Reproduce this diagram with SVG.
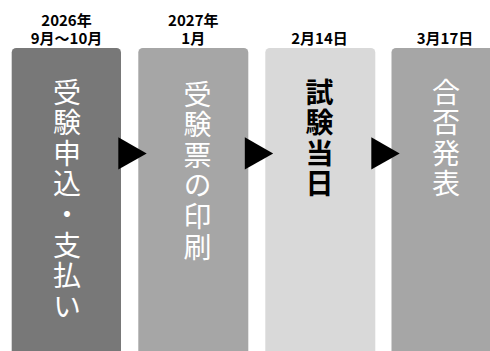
<svg xmlns="http://www.w3.org/2000/svg" width="490" height="351" viewBox="0 0 490 351">
<style>
.lbl{font-family:"Noto Sans CJK JP","Noto Sans",sans-serif;font-size:15px;font-weight:bold;fill:#000;text-anchor:middle}
.vt{font-family:"Noto Sans CJK JP","Noto Sans",sans-serif;font-size:28px;fill:#fff;writing-mode:vertical-rl;letter-spacing:2.6px}
.vb{font-family:"Noto Sans CJK JP","Noto Sans",sans-serif;font-size:28px;font-weight:bold;fill:#000;writing-mode:vertical-rl;letter-spacing:2.6px}
.arrow{fill:#000}
</style>
<rect width="490" height="351" fill="#fff"/>
<g id="step1">
<rect x="11.7" y="48" width="109.3" height="320" rx="4.5" fill="#787878"/>
<text class="lbl"><tspan x="66.5" y="26">2026年</tspan><tspan x="66.5" y="44">9月〜10月</tspan></text>
<text class="vt" x="67" y="78">受験申込・支払い</text>
</g>
<g id="step2">
<rect x="138.3" y="48" width="110" height="320" rx="4.5" fill="#a6a6a6"/>
<text class="lbl"><tspan x="193.3" y="26">2027年</tspan><tspan x="193.3" y="44">1月</tspan></text>
<text class="vt" x="197.5" y="80">受験票の印刷</text>
</g>
<g id="step3">
<rect x="265.3" y="48" width="110" height="320" rx="4.5" fill="#d9d9d9"/>
<text class="lbl" x="319.5" y="44">2月14日</text>
<text class="vb" x="319.5" y="78">試験当日</text>
</g>
<g id="step4">
<rect x="391.5" y="48" width="110" height="320" rx="4.5" fill="#a6a6a6"/>
<text class="lbl" x="445" y="44">3月17日</text>
<text class="vt" x="446" y="78">合否発表</text>
</g>
<g id="connectors">
<polygon class="arrow" points="118.3,137.3 118.3,169.5 146.7,153.4"/>
<polygon class="arrow" points="244.8,137.3 244.8,169.5 273.2,153.4"/>
<polygon class="arrow" points="371.3,137.3 371.3,169.5 399.7,153.4"/>
</g>
</svg>
